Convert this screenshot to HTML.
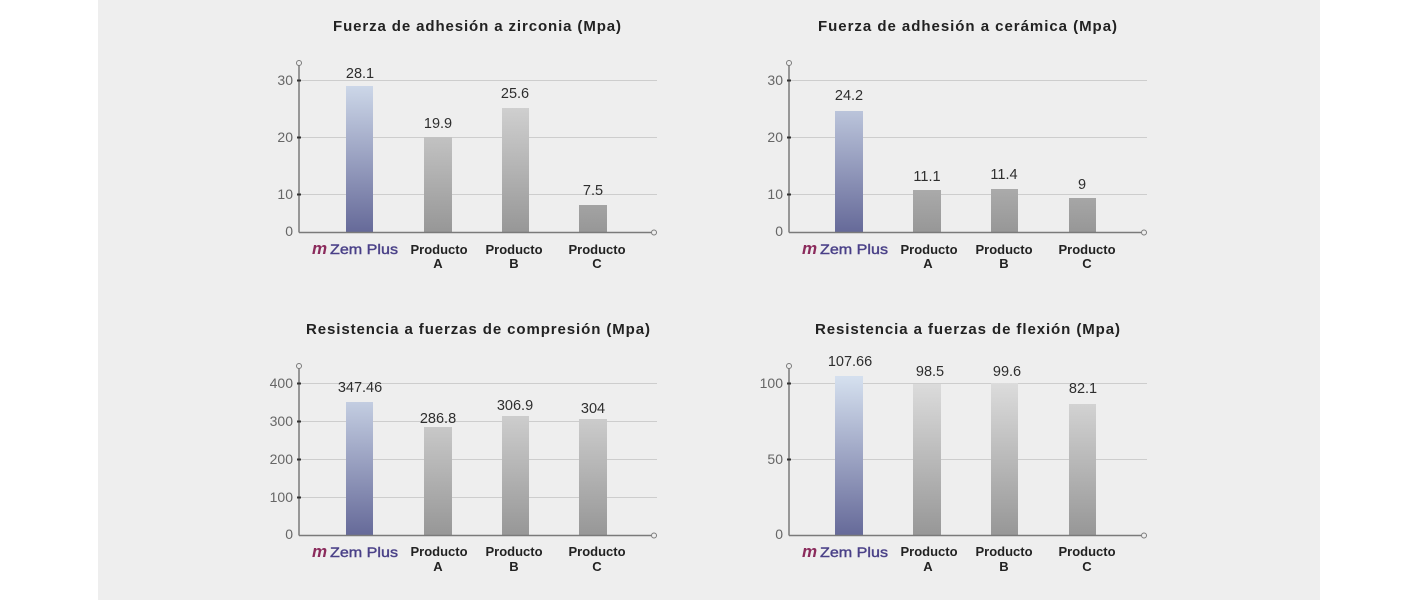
<!DOCTYPE html>
<html>
<head>
<meta charset="utf-8">
<style>
html,body{margin:0;padding:0;background:#ffffff;}
svg{display:block;}
text{font-family:"Liberation Sans",Arial,sans-serif;}
.t{font-size:15px;font-weight:bold;fill:#222;}
.v{font-size:14.5px;fill:#2e2e2e;text-anchor:middle;}
.y{font-size:14px;fill:#666;text-anchor:end;}
.p{font-size:13px;font-weight:bold;fill:#222;text-anchor:middle;}
.zm{font-family:"Liberation Sans",sans-serif;font-size:17px;font-style:italic;font-weight:bold;fill:#8b2b5c;}
.zp{font-size:14px;fill:#4a4188;stroke:#4a4188;stroke-width:0.4;}
</style>
</head>
<body>
<svg width="1421" height="600" viewBox="0 0 1421 600" xmlns="http://www.w3.org/2000/svg">
<defs>
<linearGradient id="g" gradientUnits="userSpaceOnUse" x1="0" y1="75" x2="0" y2="232">
<stop offset="0" stop-color="#dedede"/><stop offset="1" stop-color="#979797"/>
</linearGradient>
<linearGradient id="z" gradientUnits="userSpaceOnUse" x1="0" y1="75" x2="0" y2="232">
<stop offset="0" stop-color="#d4dfee"/><stop offset="1" stop-color="#666a99"/>
</linearGradient>
</defs>
<rect x="98" y="0" width="1222" height="600" fill="#eeeeee"/>

<!-- Chart 1 -->
<g>
<text class="t" x="333" y="31" textLength="288" lengthAdjust="spacing">Fuerza de adhesión a zirconia (Mpa)</text>
<g stroke="#cdcdcd" stroke-width="1">
<line x1="299" y1="80.5" x2="657" y2="80.5"/>
<line x1="299" y1="137.5" x2="657" y2="137.5"/>
<line x1="299" y1="194.5" x2="657" y2="194.5"/>
</g>
<rect x="346" y="86" width="27" height="146" fill="url(#z)"/>
<rect x="424" y="137" width="28" height="95" fill="url(#g)"/>
<rect x="502" y="108" width="27" height="124" fill="url(#g)"/>
<rect x="579" y="205" width="28" height="27" fill="url(#g)"/>
<g stroke="#7a7a7a" stroke-width="1.5" fill="#eeeeee">
<line x1="299" y1="65.5" x2="299" y2="232.5"/>
<line x1="299" y1="232.5" x2="651" y2="232.5"/>
<circle cx="299" cy="63" r="2.5" stroke-width="1"/>
<circle cx="654" cy="232.5" r="2.5" stroke-width="1"/>
</g>
<g stroke="#333" stroke-width="2"><line x1="297" y1="80.5" x2="301" y2="80.5"/><line x1="297" y1="137.5" x2="301" y2="137.5"/><line x1="297" y1="194.5" x2="301" y2="194.5"/></g>
<text class="y" x="293" y="85">30</text>
<text class="y" x="293" y="142">20</text>
<text class="y" x="293" y="199">10</text>
<text class="y" x="293" y="236">0</text>
<text class="v" x="360" y="78">28.1</text>
<text class="v" x="438" y="128">19.9</text>
<text class="v" x="515" y="98">25.6</text>
<text class="v" x="593" y="195">7.5</text>
<text class="zm" x="312" y="254">m</text>
<text class="zp" x="330" y="254" textLength="68" lengthAdjust="spacingAndGlyphs">Zem Plus</text>
<text class="p" x="439" y="254">Producto</text><text class="p" x="438" y="268">A</text>
<text class="p" x="514" y="254">Producto</text><text class="p" x="514" y="268">B</text>
<text class="p" x="597" y="254">Producto</text><text class="p" x="597" y="268">C</text>
</g>

<!-- Chart 2 -->
<g transform="translate(490,0)">
<text class="t" x="328" y="31" textLength="299" lengthAdjust="spacing">Fuerza de adhesión a cerámica (Mpa)</text>
<g stroke="#cdcdcd" stroke-width="1">
<line x1="299" y1="80.5" x2="657" y2="80.5"/>
<line x1="299" y1="137.5" x2="657" y2="137.5"/>
<line x1="299" y1="194.5" x2="657" y2="194.5"/>
</g>
<rect x="345" y="111" width="28" height="121" fill="url(#z)"/>
<rect x="423" y="190" width="28" height="42" fill="url(#g)"/>
<rect x="501" y="189" width="27" height="43" fill="url(#g)"/>
<rect x="579" y="198" width="27" height="34" fill="url(#g)"/>
<g stroke="#7a7a7a" stroke-width="1.5" fill="#eeeeee">
<line x1="299" y1="65.5" x2="299" y2="232.5"/>
<line x1="299" y1="232.5" x2="651" y2="232.5"/>
<circle cx="299" cy="63" r="2.5" stroke-width="1"/>
<circle cx="654" cy="232.5" r="2.5" stroke-width="1"/>
</g>
<g stroke="#333" stroke-width="2"><line x1="297" y1="80.5" x2="301" y2="80.5"/><line x1="297" y1="137.5" x2="301" y2="137.5"/><line x1="297" y1="194.5" x2="301" y2="194.5"/></g>
<text class="y" x="293" y="85">30</text>
<text class="y" x="293" y="142">20</text>
<text class="y" x="293" y="199">10</text>
<text class="y" x="293" y="236">0</text>
<text class="v" x="359" y="100">24.2</text>
<text class="v" x="437" y="181">11.1</text>
<text class="v" x="514" y="179">11.4</text>
<text class="v" x="592" y="189">9</text>
<text class="zm" x="312" y="254">m</text>
<text class="zp" x="330" y="254" textLength="68" lengthAdjust="spacingAndGlyphs">Zem Plus</text>
<text class="p" x="439" y="254">Producto</text><text class="p" x="438" y="268">A</text>
<text class="p" x="514" y="254">Producto</text><text class="p" x="514" y="268">B</text>
<text class="p" x="597" y="254">Producto</text><text class="p" x="597" y="268">C</text>
</g>

<!-- Chart 3 -->
<g transform="translate(0,303)">
<text class="t" x="306" y="31" textLength="344" lengthAdjust="spacing">Resistencia a fuerzas de compresión (Mpa)</text>
<g stroke="#cdcdcd" stroke-width="1">
<line x1="299" y1="80.5" x2="657" y2="80.5"/>
<line x1="299" y1="118.5" x2="657" y2="118.5"/>
<line x1="299" y1="156.5" x2="657" y2="156.5"/>
<line x1="299" y1="194.5" x2="657" y2="194.5"/>
</g>
<rect x="346" y="99" width="27" height="133" fill="url(#z)"/>
<rect x="424" y="124" width="28" height="108" fill="url(#g)"/>
<rect x="502" y="113" width="27" height="119" fill="url(#g)"/>
<rect x="579" y="116" width="28" height="116" fill="url(#g)"/>
<g stroke="#7a7a7a" stroke-width="1.5" fill="#eeeeee">
<line x1="299" y1="65.5" x2="299" y2="232.5"/>
<line x1="299" y1="232.5" x2="651" y2="232.5"/>
<circle cx="299" cy="63" r="2.5" stroke-width="1"/>
<circle cx="654" cy="232.5" r="2.5" stroke-width="1"/>
</g>
<g stroke="#333" stroke-width="2"><line x1="297" y1="80.5" x2="301" y2="80.5"/><line x1="297" y1="118.5" x2="301" y2="118.5"/><line x1="297" y1="156.5" x2="301" y2="156.5"/><line x1="297" y1="194.5" x2="301" y2="194.5"/></g>
<text class="y" x="293" y="85">400</text>
<text class="y" x="293" y="123">300</text>
<text class="y" x="293" y="161">200</text>
<text class="y" x="293" y="199">100</text>
<text class="y" x="293" y="236">0</text>
<text class="v" x="360" y="89">347.46</text>
<text class="v" x="438" y="120">286.8</text>
<text class="v" x="515" y="107">306.9</text>
<text class="v" x="593" y="110">304</text>
<text class="zm" x="312" y="254">m</text>
<text class="zp" x="330" y="254" textLength="68" lengthAdjust="spacingAndGlyphs">Zem Plus</text>
<text class="p" x="439" y="253">Producto</text><text class="p" x="438" y="268">A</text>
<text class="p" x="514" y="253">Producto</text><text class="p" x="514" y="268">B</text>
<text class="p" x="597" y="253">Producto</text><text class="p" x="597" y="268">C</text>
</g>

<!-- Chart 4 -->
<g transform="translate(490,303)">
<text class="t" x="325" y="31" textLength="305" lengthAdjust="spacing">Resistencia a fuerzas de flexión (Mpa)</text>
<g stroke="#cdcdcd" stroke-width="1">
<line x1="299" y1="80.5" x2="657" y2="80.5"/>
<line x1="299" y1="156.5" x2="657" y2="156.5"/>
</g>
<rect x="345" y="73" width="28" height="159" fill="url(#z)"/>
<rect x="423" y="81" width="28" height="151" fill="url(#g)"/>
<rect x="501" y="80" width="27" height="152" fill="url(#g)"/>
<rect x="579" y="101" width="27" height="131" fill="url(#g)"/>
<g stroke="#7a7a7a" stroke-width="1.5" fill="#eeeeee">
<line x1="299" y1="65.5" x2="299" y2="232.5"/>
<line x1="299" y1="232.5" x2="651" y2="232.5"/>
<circle cx="299" cy="63" r="2.5" stroke-width="1"/>
<circle cx="654" cy="232.5" r="2.5" stroke-width="1"/>
</g>
<g stroke="#333" stroke-width="2"><line x1="297" y1="80.5" x2="301" y2="80.5"/><line x1="297" y1="156.5" x2="301" y2="156.5"/></g>
<text class="y" x="293" y="85">100</text>
<text class="y" x="293" y="161">50</text>
<text class="y" x="293" y="236">0</text>
<text class="v" x="360" y="63">107.66</text>
<text class="v" x="440" y="73">98.5</text>
<text class="v" x="517" y="73">99.6</text>
<text class="v" x="593" y="90">82.1</text>
<text class="zm" x="312" y="254">m</text>
<text class="zp" x="330" y="254" textLength="68" lengthAdjust="spacingAndGlyphs">Zem Plus</text>
<text class="p" x="439" y="253">Producto</text><text class="p" x="438" y="268">A</text>
<text class="p" x="514" y="253">Producto</text><text class="p" x="514" y="268">B</text>
<text class="p" x="597" y="253">Producto</text><text class="p" x="597" y="268">C</text>
</g>
</svg>
</body>
</html>
